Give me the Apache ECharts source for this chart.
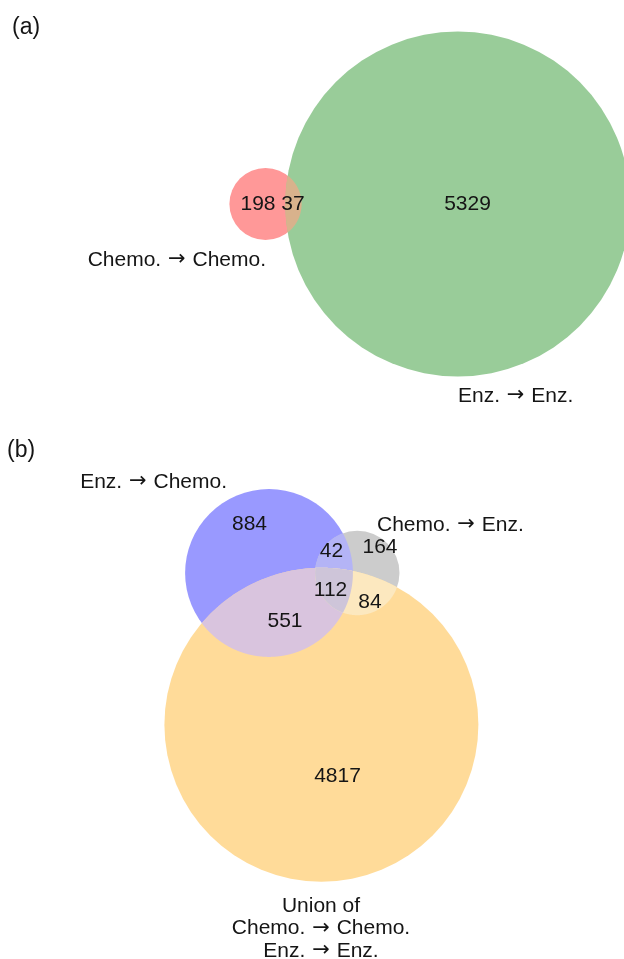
<!DOCTYPE html>
<html>
<head>
<meta charset="utf-8">
<script src="https://cdn.jsdelivr.net/npm/echarts@6/dist/echarts.min.js"></script>
<style>
html,body{margin:0;padding:0;background:#fff;}
#chart{width:624px;height:959px;}
</style>
</head>
<body>
<div id="chart"></div>
<script>
// ---------------- DATA ----------------
const panelTitles = ['(a)', '(b)'];

// Panel (a): two sets
const setsA = ['Chemo. \u2192 Chemo.', 'Enz. \u2192 Enz.'];
const regionKeysA = ['10', '01', '11'];          // membership: set0, set1
const regionCountsA = [198, 5329, 37];
const regionColorsA = ['#FF9898', '#99CC99', '#D8B28C'];

// Panel (b): three sets
const setsB = ['Enz. \u2192 Chemo.', 'Chemo. \u2192 Enz.', 'Union of\nChemo. \u2192 Chemo.\nEnz. \u2192 Enz.'];
const regionKeysB = ['100', '010', '001', '110', '101', '011', '111'];
const regionCountsB = [884, 164, 4817, 42, 551, 84, 112];
const regionColorsB = ['#9999FF', '#CCCCCC', '#FFDB99', '#B4B4F6', '#D9C4DE', '#FCE8BF', '#CEC5D9'];

// ---------------- VENN GEOMETRY ----------------
function setTotal(keys, counts, i) {
  let s = 0; keys.forEach((k, n) => { if (k[i] === '1') s += counts[n]; }); return s;
}
function pairTotal(keys, counts, i, j) {
  let s = 0; keys.forEach((k, n) => { if (k[i] === '1' && k[j] === '1') s += counts[n]; }); return s;
}
function lensArea(r1, r2, d) {
  if (d >= r1 + r2) return 0;
  if (d <= Math.abs(r1 - r2)) return Math.PI * Math.min(r1, r2) ** 2;
  const a = r1 * r1 * Math.acos((d * d + r1 * r1 - r2 * r2) / (2 * d * r1));
  const b = r2 * r2 * Math.acos((d * d + r2 * r2 - r1 * r1) / (2 * d * r2));
  const c = 0.5 * Math.sqrt((-d + r1 + r2) * (d + r1 - r2) * (d - r1 + r2) * (d + r1 + r2));
  return a + b - c;
}
function solveDistance(r1, r2, area) {
  let lo = Math.abs(r1 - r2), hi = r1 + r2;
  for (let k = 0; k < 200; k++) {
    const mid = (lo + hi) / 2;
    if (lensArea(r1, r2, mid) > area) lo = mid; else hi = mid;
  }
  return (lo + hi) / 2;
}
const radiusOf = total => Math.sqrt(total / Math.PI);

// Panel (a) layout: set 0 at origin, set 1 to the right
const rA = [0, 1].map(i => radiusOf(setTotal(regionKeysA, regionCountsA, i)));
const dA = solveDistance(rA[0], rA[1], pairTotal(regionKeysA, regionCountsA, 0, 1));
const circlesA = [{x: 0, y: 0, r: rA[0]}, {x: dA, y: 0, r: rA[1]}];

// Panel (b) layout: set 0 at origin, set 1 to the right, set 2 below
const rB = [0, 1, 2].map(i => radiusOf(setTotal(regionKeysB, regionCountsB, i)));
const d01 = solveDistance(rB[0], rB[1], pairTotal(regionKeysB, regionCountsB, 0, 1));
const d02 = solveDistance(rB[0], rB[2], pairTotal(regionKeysB, regionCountsB, 0, 2));
const d12 = solveDistance(rB[1], rB[2], pairTotal(regionKeysB, regionCountsB, 1, 2));
const x2 = (d02 * d02 - d12 * d12 + d01 * d01) / (2 * d01);
const y2 = Math.sqrt(Math.max(0, d02 * d02 - x2 * x2));
const circlesB = [{x: 0, y: 0, r: rB[0]}, {x: d01, y: 0, r: rB[1]}, {x: x2, y: y2, r: rB[2]}];

function circleIntersections(a, b) {
  const dx = b.x - a.x, dy = b.y - a.y, d = Math.hypot(dx, dy);
  if (d > a.r + b.r || d < Math.abs(a.r - b.r)) return [];
  const l = (a.r * a.r - b.r * b.r + d * d) / (2 * d);
  const h = Math.sqrt(Math.max(0, a.r * a.r - l * l));
  const bx = a.x + l * dx / d, by = a.y + l * dy / d;
  return [[bx - h * dy / d, by + h * dx / d], [bx + h * dy / d, by - h * dx / d]];
}
function intersectionPolygon(circles, idxs) {
  const N = 1440, pts = [];
  const inside = (p, j, tol) => Math.hypot(p[0] - circles[j].x, p[1] - circles[j].y) <= circles[j].r + tol;
  idxs.forEach(i => {
    const c = circles[i];
    for (let k = 0; k < N; k++) {
      const t = 2 * Math.PI * k / N;
      const p = [c.x + c.r * Math.cos(t), c.y + c.r * Math.sin(t)];
      if (idxs.every(j => j === i || inside(p, j, 0))) pts.push(p);
    }
  });
  for (let a = 0; a < idxs.length; a++) for (let b = a + 1; b < idxs.length; b++) {
    circleIntersections(circles[idxs[a]], circles[idxs[b]]).forEach(p => {
      if (idxs.every(j => inside(p, j, 1e-6))) pts.push(p);
    });
  }
  const mx = pts.reduce((s, p) => s + p[0], 0) / pts.length;
  const my = pts.reduce((s, p) => s + p[1], 0) / pts.length;
  pts.sort((p, q) => Math.atan2(p[1] - my, p[0] - mx) - Math.atan2(q[1] - my, q[0] - mx));
  return pts;
}
function buildShapes(keys, colors, circles) {
  const shapes = keys.map((k, n) => {
    const idxs = [];
    for (let i = 0; i < k.length; i++) if (k[i] === '1') idxs.push(i);
    if (idxs.length === 1) {
      const c = circles[idxs[0]];
      return {order: 1, color: colors[n], circle: c, anchor: [c.x, c.y]};
    }
    const poly = intersectionPolygon(circles, idxs);
    return {order: idxs.length, color: colors[n], poly: poly, anchor: poly[0]};
  });
  shapes.sort((a, b) => a.order - b.order);
  return shapes;
}
const shapesA = buildShapes(regionKeysA, regionColorsA, circlesA);
const shapesB = buildShapes(regionKeysB, regionColorsB, circlesB);

function makeRender(shapes) {
  return function (params, api) {
    const s = shapes[params.dataIndex];
    if (s.circle) {
      const c = api.coord([s.circle.x, s.circle.y]);
      const r = api.size([s.circle.r, 0])[0];
      return {type: 'circle', shape: {cx: c[0], cy: c[1], r: r}, style: {fill: s.color}, silent: true};
    }
    return {type: 'polygon', shape: {points: s.poly.map(p => api.coord(p))}, style: {fill: s.color}, silent: true};
  };
}

// ---------------- PAGE LAYOUT ----------------
const W = 624, H = 959;
const scaleA = 172.5 / Math.max(...rA);   // px per venn unit
const anchorA = [265.5, 204];              // page position of first circle centre
const scaleB = 157 / Math.max(...rB);
const anchorB = [269, 573];

function axisRange(anchorPx, scale, sizePx) {
  return {min: -anchorPx / scale, max: (sizePx - anchorPx) / scale};
}
const xrA = axisRange(anchorA[0], scaleA, W), yrA = axisRange(anchorA[1], scaleA, H);
const xrB = axisRange(anchorB[0], scaleB, W), yrB = axisRange(anchorB[1], scaleB, H);

const FONT = '"Liberation Sans", Arial, Helvetica, sans-serif';
const TXT = '#151515';
const richArrow = {ar: {font: '21px "DejaVu Sans"', fill: TXT, padding: [0, 1, 0, 1]}};
const withArrow = s => s.split('\u2192').join('{ar|\u2192}');
function txt(text, x, y, align, size, extra) {
  return Object.assign({
    type: 'text', x: x, y: y, silent: true, z: 100,
    style: {text: withArrow(text), fill: TXT, font: (size || 21) + 'px ' + FONT,
            textAlign: align || 'center', textVerticalAlign: 'middle',
            align: align || 'center', verticalAlign: 'middle', rich: richArrow}
  }, extra || {});
}

const graphics = [
  txt(panelTitles[0], 12, 28, 'left', 23),
  txt(panelTitles[1], 7, 451, 'left', 23),
  // panel (a) region counts
  txt(String(regionCountsA[0]), 258, 204),
  txt(String(regionCountsA[2]), 293, 204),
  txt(String(regionCountsA[1]), 467.5, 204),
  // panel (a) set labels
  txt(setsA[0], 266, 260, 'right'),
  txt(setsA[1], 458, 396, 'left'),
  // panel (b) region counts
  txt(String(regionCountsB[0]), 249.5, 524),
  txt(String(regionCountsB[1]), 380, 547),
  txt(String(regionCountsB[3]), 331.5, 551),
  txt(String(regionCountsB[6]), 330.5, 590.5),
  txt(String(regionCountsB[5]), 370, 602.5),
  txt(String(regionCountsB[4]), 285, 621.5),
  txt(String(regionCountsB[2]), 337.5, 776.5),
  // panel (b) set labels
  txt(setsB[0], 227, 482, 'right'),
  txt(setsB[1], 377, 525, 'left'),
  {type: 'text', x: 321, y: 928.5, silent: true, z: 100,
   style: {text: withArrow(setsB[2]), fill: TXT, font: '21px ' + FONT, lineHeight: 22.5,
           textAlign: 'center', textVerticalAlign: 'middle', align: 'center', verticalAlign: 'middle',
           rich: {ar: {font: '21px "DejaVu Sans"', fill: TXT, lineHeight: 22.5, padding: [0, 1, 0, 1]}}}}
];

const chart = echarts.init(document.getElementById('chart'), null, {renderer: 'canvas'});
chart.setOption({
  animation: false,
  backgroundColor: '#ffffff',
  grid: [
    {left: 0, top: 0, width: W, height: H},
    {left: 0, top: 0, width: W, height: H}
  ],
  xAxis: [
    {type: 'value', gridIndex: 0, min: xrA.min, max: xrA.max, show: false},
    {type: 'value', gridIndex: 1, min: xrB.min, max: xrB.max, show: false}
  ],
  yAxis: [
    {type: 'value', gridIndex: 0, min: yrA.min, max: yrA.max, inverse: true, show: false},
    {type: 'value', gridIndex: 1, min: yrB.min, max: yrB.max, inverse: true, show: false}
  ],
  series: [
    {type: 'custom', xAxisIndex: 0, yAxisIndex: 0, renderItem: makeRender(shapesA),
     data: shapesA.map(s => s.anchor), silent: true, clip: false},
    {type: 'custom', xAxisIndex: 1, yAxisIndex: 1, renderItem: makeRender(shapesB),
     data: shapesB.map(s => s.anchor), silent: true, clip: false}
  ],
  graphic: graphics
});
</script>
</body>
</html>
